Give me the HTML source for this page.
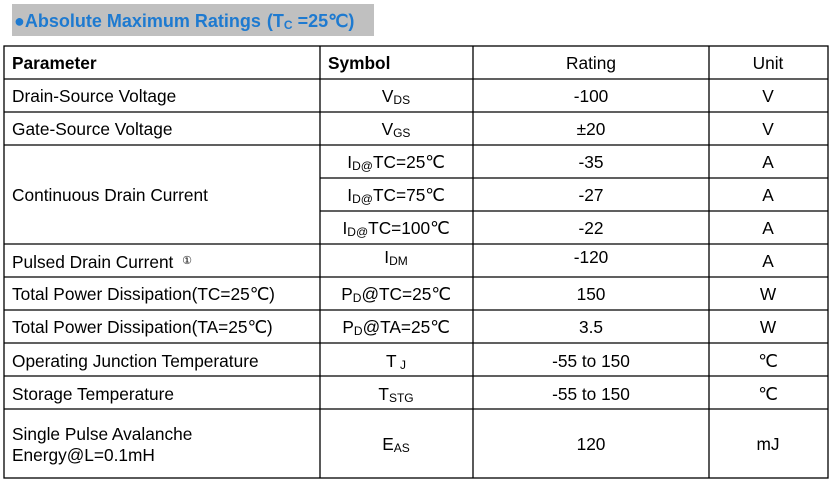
<!DOCTYPE html>
<html><head><meta charset="utf-8"><style>
body{margin:0;background:#fff;width:833px;height:485px;overflow:hidden}
svg text{font-family:"Liberation Sans",Arial,sans-serif;font-size:17.3px;fill:#000}
</style></head><body>
<svg width="833" height="485" xmlns="http://www.w3.org/2000/svg">
<rect x="12" y="4" width="362" height="32" fill="#c0c0c0"/>
<text x="14" y="27" style="font-size:18px;font-weight:bold;fill:#1e7ad0">●Absolute Maximum Ratings<tspan dx="6">(T</tspan><tspan style="font-size:12px" dy="2">C</tspan><tspan dy="-2"> =25℃)</tspan></text>
<g stroke="#000" stroke-width="1.3" fill="none">
<rect x="4" y="46" width="824" height="432"/>
<line x1="320" y1="46" x2="320" y2="478"/>
<line x1="473" y1="46" x2="473" y2="478"/>
<line x1="709" y1="46" x2="709" y2="478"/>
<line x1="4" y1="79" x2="828" y2="79"/>
<line x1="4" y1="112" x2="828" y2="112"/>
<line x1="4" y1="145" x2="828" y2="145"/>
<line x1="320" y1="178" x2="828" y2="178"/>
<line x1="320" y1="211" x2="828" y2="211"/>
<line x1="4" y1="244" x2="828" y2="244"/>
<line x1="4" y1="277" x2="828" y2="277"/>
<line x1="4" y1="310" x2="828" y2="310"/>
<line x1="4" y1="343" x2="828" y2="343"/>
<line x1="4" y1="376" x2="828" y2="376"/>
<line x1="4" y1="409" x2="828" y2="409"/>
</g>
<g>
<text x="12" y="69" font-weight="bold">Parameter</text>
<text x="328" y="69" font-weight="bold">Symbol</text>
<text x="591" y="69" text-anchor="middle">Rating</text>
<text x="768" y="69" text-anchor="middle">Unit</text>

<text x="12" y="102">Drain-Source Voltage</text>
<text x="396" y="102" text-anchor="middle">V<tspan font-size="12" dy="2">DS</tspan></text>
<text x="591" y="102" text-anchor="middle">-100</text>
<text x="768" y="102" text-anchor="middle">V</text>

<text x="12" y="135">Gate-Source Voltage</text>
<text x="396" y="135" text-anchor="middle">V<tspan font-size="12" dy="2">GS</tspan></text>
<text x="591" y="135" text-anchor="middle">±20</text>
<text x="768" y="135" text-anchor="middle">V</text>

<text x="12" y="201">Continuous Drain Current</text>
<text x="396" y="168" text-anchor="middle">I<tspan font-size="12" dy="2">D@</tspan><tspan dy="-2">TC=25℃</tspan></text>
<text x="591" y="168" text-anchor="middle">-35</text>
<text x="768" y="168" text-anchor="middle">A</text>
<text x="396" y="201" text-anchor="middle">I<tspan font-size="12" dy="2">D@</tspan><tspan dy="-2">TC=75℃</tspan></text>
<text x="591" y="201" text-anchor="middle">-27</text>
<text x="768" y="201" text-anchor="middle">A</text>
<text x="396" y="234" text-anchor="middle">I<tspan font-size="12" dy="2">D@</tspan><tspan dy="-2">TC=100℃</tspan></text>
<text x="591" y="234" text-anchor="middle">-22</text>
<text x="768" y="234" text-anchor="middle">A</text>

<text x="12" y="268">Pulsed Drain Current <tspan font-size="11" dy="-4" dx="4">①</tspan></text>
<text x="396" y="263" text-anchor="middle">I<tspan font-size="12" dy="2">DM</tspan></text>
<text x="591" y="263" text-anchor="middle">-120</text>
<text x="768" y="267" text-anchor="middle">A</text>

<text x="12" y="300">Total Power Dissipation(TC=25℃)</text>
<text x="396" y="300" text-anchor="middle">P<tspan font-size="12" dy="2">D</tspan><tspan dy="-2">@TC=25℃</tspan></text>
<text x="591" y="300" text-anchor="middle">150</text>
<text x="768" y="300" text-anchor="middle">W</text>

<text x="12" y="333">Total Power Dissipation(TA=25℃)</text>
<text x="396" y="333" text-anchor="middle">P<tspan font-size="12" dy="2">D</tspan><tspan dy="-2">@TA=25℃</tspan></text>
<text x="591" y="333" text-anchor="middle">3.5</text>
<text x="768" y="333" text-anchor="middle">W</text>

<text x="12" y="367">Operating Junction Temperature</text>
<text x="396" y="367" text-anchor="middle">T<tspan font-size="12" dy="2"> J</tspan></text>
<text x="591" y="367" text-anchor="middle">-55 to 150</text>
<text x="768" y="367" text-anchor="middle">℃</text>

<text x="12" y="400">Storage Temperature</text>
<text x="396" y="400" text-anchor="middle">T<tspan font-size="12" dy="2">STG</tspan></text>
<text x="591" y="400" text-anchor="middle">-55 to 150</text>
<text x="768" y="400" text-anchor="middle">℃</text>

<text x="12" y="440">Single Pulse Avalanche</text>
<text x="12" y="461">Energy@L=0.1mH</text>
<text x="396" y="450" text-anchor="middle">E<tspan font-size="12" dy="2">AS</tspan></text>
<text x="591" y="450" text-anchor="middle">120</text>
<text x="768" y="450" text-anchor="middle">mJ</text>
</g>
</svg>
</body></html>
